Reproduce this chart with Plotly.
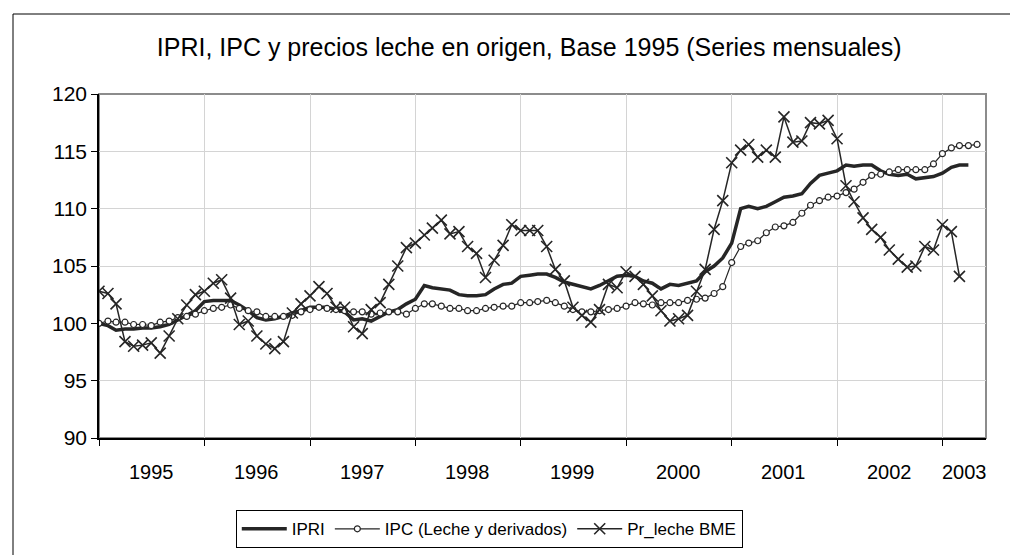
import plotly.graph_objects as go

# Monthly categories Jan 1995 .. May 2003
months = [f"{y}-{m:02d}-01" for y in range(1995, 2004) for m in range(1, 13)][:101]

ipri = [100.0, 99.8, 99.4, 99.5, 99.5, 99.6, 99.6, 99.7, 99.9, 100.3,
        100.7, 101.1, 101.9, 102.0, 102.0, 102.0, 101.6, 101.1, 100.5, 100.3,
        100.4, 100.6, 100.9, 101.1, 101.4, 101.4, 101.4, 101.2, 101.0, 100.3,
        100.4, 100.2, 100.6, 101.0, 101.2, 101.7, 102.1, 103.3, 103.1, 103.0,
        102.9, 102.5, 102.4, 102.4, 102.5, 103.0, 103.4, 103.5, 104.1, 104.2,
        104.3, 104.3, 104.0, 103.6, 103.4, 103.2, 103.0, 103.3, 103.7, 104.1,
        104.2, 104.1, 103.7, 103.5, 103.0, 103.4, 103.3, 103.5, 103.7, 104.5,
        105.0, 105.7, 107.0, 110.0, 110.2, 110.0, 110.2, 110.6, 111.0, 111.1,
        111.3, 112.2, 112.9, 113.1, 113.3, 113.8, 113.7, 113.8, 113.8, 113.3,
        113.0, 112.9, 113.0, 112.6, 112.7, 112.8, 113.1, 113.6, 113.8, 113.8]

ipc = [100.0, 100.2, 100.1, 100.1, 99.9, 99.9, 99.8, 100.1, 100.2, 100.5,
       100.6, 100.8, 101.1, 101.3, 101.4, 101.6, 101.3, 101.1, 101.0, 100.6,
       100.6, 100.6, 100.7, 101.0, 101.2, 101.4, 101.3, 101.2, 101.1, 101.0,
       101.0, 100.8, 100.9, 101.0, 101.0, 100.8, 101.3, 101.7, 101.7, 101.5,
       101.3, 101.3, 101.1, 101.1, 101.3, 101.4, 101.5, 101.5, 101.8, 101.8,
       101.9, 102.0, 101.8, 101.5, 101.2, 101.0, 101.0, 101.1, 101.2, 101.3,
       101.5, 101.8, 101.7, 101.6, 101.8, 101.8, 101.8, 102.0, 102.1, 102.2,
       102.6, 103.2, 105.3, 106.7, 107.0, 107.2, 107.9, 108.4, 108.5, 108.8,
       109.6, 110.3, 110.7, 111.0, 111.1, 111.4, 111.7, 112.3, 112.9, 113.0,
       113.2, 113.4, 113.4, 113.4, 113.4, 113.9, 114.8, 115.3, 115.5, 115.5,
       115.6]

pr_leche = [102.8, 102.6, 101.7, 98.4, 98.0, 98.1, 98.3, 97.4, 98.9, 100.4,
            101.6, 102.5, 102.8, 103.5, 103.8, 102.2, 99.9, 100.2, 98.9, 98.2,
            97.8, 98.4, 100.9, 101.7, 102.4, 103.2, 102.6, 101.4, 101.4, 99.7,
            99.1, 101.2, 101.8, 103.4, 105.0, 106.6, 107.0, 107.7, 108.3, 109.0,
            107.8, 108.0, 106.7, 106.1, 104.0, 105.5, 106.8, 108.6, 108.1, 108.1,
            108.1, 106.7, 104.7, 103.7, 101.4, 100.7, 100.1, 101.2, 103.4, 103.1,
            104.5, 104.1, 103.4, 102.4, 101.1, 100.2, 100.4, 100.7, 102.8, 104.7,
            108.2, 110.7, 114.0, 115.1, 115.6, 114.5, 115.1, 114.5, 118.0, 115.8,
            115.9, 117.5, 117.4, 117.7, 116.1, 112.0, 110.6, 109.2, 108.2, 107.5,
            106.4, 105.6, 104.9, 105.0, 106.7, 106.4, 108.6, 108.0, 104.1]

years = [str(y) for y in range(1995, 2004)]
year_ticks = [f"{y}-01-01" for y in years]
year_label_pos = [f"{y}-07-01" for y in years[:-1]] + ["2003-03-20"]

FONT = "Liberation Sans, Arial, sans-serif"
DARK = "#262626"

fig = go.Figure()
fig.add_trace(go.Scatter(
    x=months[:len(ipri)], y=ipri, name="IPRI", mode="lines",
    line=dict(color=DARK, width=3.5)))
fig.add_trace(go.Scatter(
    x=months[:len(ipc)], y=ipc, name="IPC (Leche y derivados)", mode="lines+markers",
    line=dict(color=DARK, width=1.2),
    marker=dict(symbol="circle", size=6, color="white", line=dict(color=DARK, width=1.2))))
fig.add_trace(go.Scatter(
    x=months[:len(pr_leche)], y=pr_leche, name="Pr_leche BME", mode="lines+markers",
    line=dict(color=DARK, width=1.5),
    marker=dict(symbol="x-thin", size=11, color=DARK, line=dict(color=DARK, width=1.6))))

annotations = [dict(x=p, y=-0.098, xref="x", yref="paper", text=t, showarrow=False,
                    font=dict(family=FONT, size=20, color="black"),
                    xanchor="center", yanchor="middle")
               for p, t in zip(year_label_pos, years)]

fig.update_layout(
    width=1018, height=555,
    margin=dict(l=91, r=40, t=86, b=125),
    paper_bgcolor="white", plot_bgcolor="white",
    font=dict(family=FONT, color="black"),
    title=dict(text="IPRI, IPC y precios leche en origen, Base 1995 (Series mensuales)",
               x=0.485, xref="paper", xanchor="center", y=0.93, yanchor="middle",
               font=dict(family=FONT, size=25, color="black")),
    xaxis=dict(type="date", range=["1995-01-01", "2003-06-01"],
               tickvals=year_ticks, showticklabels=False,
               ticks="outside", ticklen=6, tickcolor="black", tickwidth=1,
               showgrid=True, gridcolor="#d4d4d4", gridwidth=1.2,
               showline=True, linecolor="black", linewidth=1.5, zeroline=False),
    yaxis=dict(range=[90, 120], dtick=5, tick0=90,
               ticks="outside", ticklen=6, tickcolor="black",
               tickfont=dict(family=FONT, size=21, color="black"),
               showgrid=True, gridcolor="#d4d4d4", gridwidth=1.2,
               showline=True, linecolor="black", linewidth=1.5, zeroline=False),
    showlegend=True,
    legend=dict(orientation="h", x=0.44, xanchor="center", y=-0.21, yanchor="top",
                bordercolor="black", borderwidth=1, bgcolor="white",
                font=dict(family=FONT, size=17, color="black"),
                itemwidth=45, tracegroupgap=0),
    annotations=annotations,
    shapes=[
        dict(type="rect", xref="paper", yref="paper", x0=0, x1=1, y0=0, y1=1,
             line=dict(color="#8c8c8c", width=2), layer="below"),
        dict(type="rect", xref="paper", yref="paper",
             x0=(5 - 91) / 887, x1=(1010 - 91) / 887,
             y0=(430 - 548) / 344, y1=(430 - 6) / 344,
             line=dict(color="black", width=1), layer="below"),
    ],
)

fig.write_html("out.html")
